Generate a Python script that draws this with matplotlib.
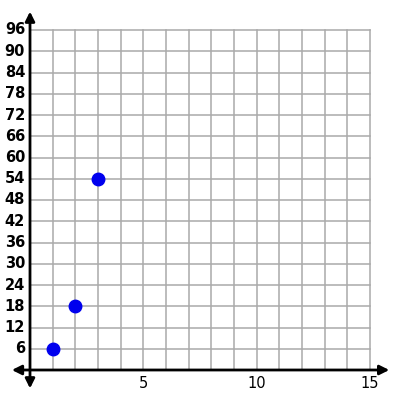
import matplotlib.pyplot as plt
import numpy as np

# Points
x_vals = [1, 2, 3]
y_vals = [6, 18, 54]

x_ticks = [5, 10, 15]
y_ticks = list(range(6, 97, 6))

# pixel layout: x=0 at px 30, x=15 at px 370; y=0 at py 370, y=96 at py 30
px_per_x = 340 / 15
px_per_y = 340 / 96

fig = plt.figure(figsize=(4, 4), dpi=100)
ax = fig.add_axes([0, 0, 1, 1])
ax.set_xlim(-30 / px_per_x, 370 / px_per_x)
ax.set_ylim(-30 / px_per_y, 370 / px_per_y)
ax.axis('off')

# grid
for gx in range(1, 16):
    ax.plot([gx, gx], [0, 96], color='#aaaaaa', lw=1.1, zorder=1)
for gy in range(6, 97, 6):
    ax.plot([0, 15], [gy, gy], color='#aaaaaa', lw=1.1, zorder=1)

# axes with arrows
arrow = dict(arrowstyle='<|-|>', color='black', lw=2, mutation_scale=14,
             shrinkA=0, shrinkB=0)
ax.annotate('', xy=(15.85, 0), xytext=(-0.8, 0), arrowprops=arrow, zorder=3)
ax.annotate('', xy=(0, 101.2), xytext=(0, -5.2), arrowprops=arrow, zorder=3)

# tick labels
for t in y_ticks:
    ax.text(-0.22, t, str(t), ha='right', va='center', fontsize=10.5,
            fontweight='bold', family='DejaVu Sans')
for t in x_ticks:
    ax.text(t, -3.7, str(t), ha='center', va='center', fontsize=10.5,
            family='DejaVu Sans')

# points
ax.plot(x_vals, y_vals, 'o', color='#0000ee', markersize=9, zorder=4)

fig.savefig('out.png', dpi=100)
